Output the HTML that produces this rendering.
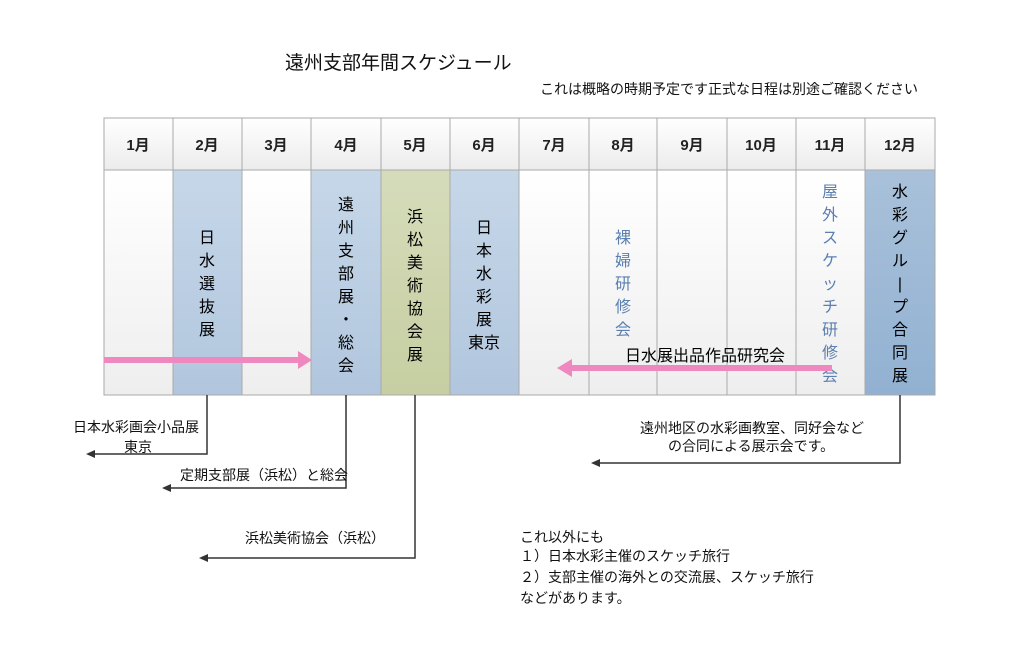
<!DOCTYPE html>
<html><head><meta charset="utf-8"><style>
body{margin:0;background:#fff;}
svg text{font-family:"Liberation Sans","Noto Sans CJK JP",sans-serif;}
</style></head><body>
<svg width="1024" height="640" viewBox="0 0 1024 640" xmlns="http://www.w3.org/2000/svg">
<defs>
<linearGradient id="hd" x1="0" y1="0" x2="0" y2="1"><stop offset="0" stop-color="#ffffff"/><stop offset="1" stop-color="#ececec"/></linearGradient>
<linearGradient id="wh" x1="0" y1="0" x2="0" y2="1"><stop offset="0" stop-color="#ffffff"/><stop offset="1" stop-color="#eeeeee"/></linearGradient>
<linearGradient id="bl" x1="0" y1="0" x2="0" y2="1"><stop offset="0" stop-color="#c6d7e8"/><stop offset="1" stop-color="#b1c6de"/></linearGradient>
<linearGradient id="gr" x1="0" y1="0" x2="0" y2="1"><stop offset="0" stop-color="#d6dcba"/><stop offset="1" stop-color="#c6cea2"/></linearGradient>
<linearGradient id="db" x1="0" y1="0" x2="0" y2="1"><stop offset="0" stop-color="#a9c1da"/><stop offset="1" stop-color="#92b1d2"/></linearGradient>
</defs>
<text x="285" y="69" font-size="19" fill="#111">遠州支部年間スケジュール</text>
<text x="540" y="94" font-size="14" fill="#111">これは概略の時期予定です正式な日程は別途ご確認ください</text>
<g stroke="#aaa" stroke-width="1">
<rect x="104" y="118" width="831" height="52" fill="url(#hd)"/>
<rect x="104" y="170" width="69" height="225" fill="url(#wh)"/>
<rect x="173" y="170" width="69" height="225" fill="url(#bl)"/>
<rect x="242" y="170" width="69" height="225" fill="url(#wh)"/>
<rect x="311" y="170" width="70" height="225" fill="url(#bl)"/>
<rect x="381" y="170" width="69" height="225" fill="url(#gr)"/>
<rect x="450" y="170" width="69" height="225" fill="url(#bl)"/>
<rect x="519" y="170" width="70" height="225" fill="url(#wh)"/>
<rect x="589" y="170" width="68" height="225" fill="url(#wh)"/>
<rect x="657" y="170" width="70" height="225" fill="url(#wh)"/>
<rect x="727" y="170" width="69" height="225" fill="url(#wh)"/>
<rect x="796" y="170" width="69" height="225" fill="url(#wh)"/>
<rect x="865" y="170" width="70" height="225" fill="url(#db)"/>
<path d="M173 118V170M242 118V170M311 118V170M381 118V170M450 118V170M519 118V170M589 118V170M657 118V170M727 118V170M796 118V170M865 118V170"/>
</g>
<g font-size="15" font-weight="bold" fill="#222" text-anchor="middle">
<text x="138" y="150">1月</text><text x="207" y="150">2月</text><text x="276" y="150">3月</text><text x="346" y="150">4月</text><text x="415" y="150">5月</text><text x="484" y="150">6月</text><text x="554" y="150">7月</text><text x="623" y="150">8月</text><text x="692" y="150">9月</text><text x="761" y="150">10月</text><text x="830" y="150">11月</text><text x="900" y="150">12月</text>
</g>
<g font-size="16" fill="#000" text-anchor="middle">
<text x="207" y="243">日</text><text x="207" y="266">水</text><text x="207" y="289">選</text><text x="207" y="312">抜</text><text x="207" y="335">展</text>
<text x="346" y="210">遠</text><text x="346" y="233">州</text><text x="346" y="256">支</text><text x="346" y="279">部</text><text x="346" y="302">展</text><text x="346" y="325">・</text><text x="346" y="348">総</text><text x="346" y="371">会</text>
<text x="415" y="222">浜</text><text x="415" y="245">松</text><text x="415" y="268">美</text><text x="415" y="291">術</text><text x="415" y="314">協</text><text x="415" y="337">会</text><text x="415" y="360">展</text>
<text x="484" y="233">日</text><text x="484" y="256">本</text><text x="484" y="279">水</text><text x="484" y="302">彩</text><text x="484" y="325">展</text><text x="484" y="348">東京</text>
<text x="900" y="197">水</text><text x="900" y="220">彩</text><text x="900" y="243">グ</text><text x="900" y="266">ル</text><text x="900" y="289">|</text><text x="900" y="312">プ</text><text x="900" y="335">合</text><text x="900" y="358">同</text><text x="900" y="381">展</text>
</g>
<g font-size="16" fill="#5a7fb0" text-anchor="middle">
<text x="623" y="243">裸</text><text x="623" y="266">婦</text><text x="623" y="289">研</text><text x="623" y="312">修</text><text x="623" y="335">会</text>
<text x="830" y="197">屋</text><text x="830" y="220">外</text><text x="830" y="243">ス</text><text x="830" y="266">ケ</text><text x="830" y="289">ッ</text><text x="830" y="312">チ</text><text x="830" y="335">研</text><text x="830" y="358">修</text><text x="830" y="381">会</text>
</g>
<g fill="#ee88bf">
<rect x="104" y="357" width="196" height="6"/><polygon points="298,351 312,360 298,369"/>
<rect x="570" y="365" width="262" height="6"/><polygon points="572,359 557,368 572,377"/>
</g>
<text x="625" y="361" font-size="16" fill="#000">日水展出品作品研究会</text>
<g stroke="#333" stroke-width="1.5" fill="none">
<path d="M207 395V454H92"/><path d="M346 395V488H168"/><path d="M415 395V558H205"/><path d="M900 395V463H597"/>
</g>
<g fill="#333">
<polygon points="86,454 95,450 95,458"/><polygon points="162,488 171,484 171,492"/><polygon points="199,558 208,554 208,562"/><polygon points="591,463 600,459 600,467"/>
</g>
<g font-size="14" fill="#111">
<text x="73" y="432">日本水彩画会小品展</text><text x="124" y="452">東京</text>
<text x="180" y="480">定期支部展（浜松）と総会</text>
<text x="245" y="543">浜松美術協会（浜松）</text>
<text x="640" y="433">遠州地区の水彩画教室、同好会など</text>
<text x="668" y="451">の合同による展示会です。</text>
<text x="520" y="542">これ以外にも</text>
<text x="520" y="561">１）日本水彩主催のスケッチ旅行</text>
<text x="520" y="582">２）支部主催の海外との交流展、スケッチ旅行</text>
<text x="520" y="603">などがあります。</text>
</g>
</svg>
</body></html>
